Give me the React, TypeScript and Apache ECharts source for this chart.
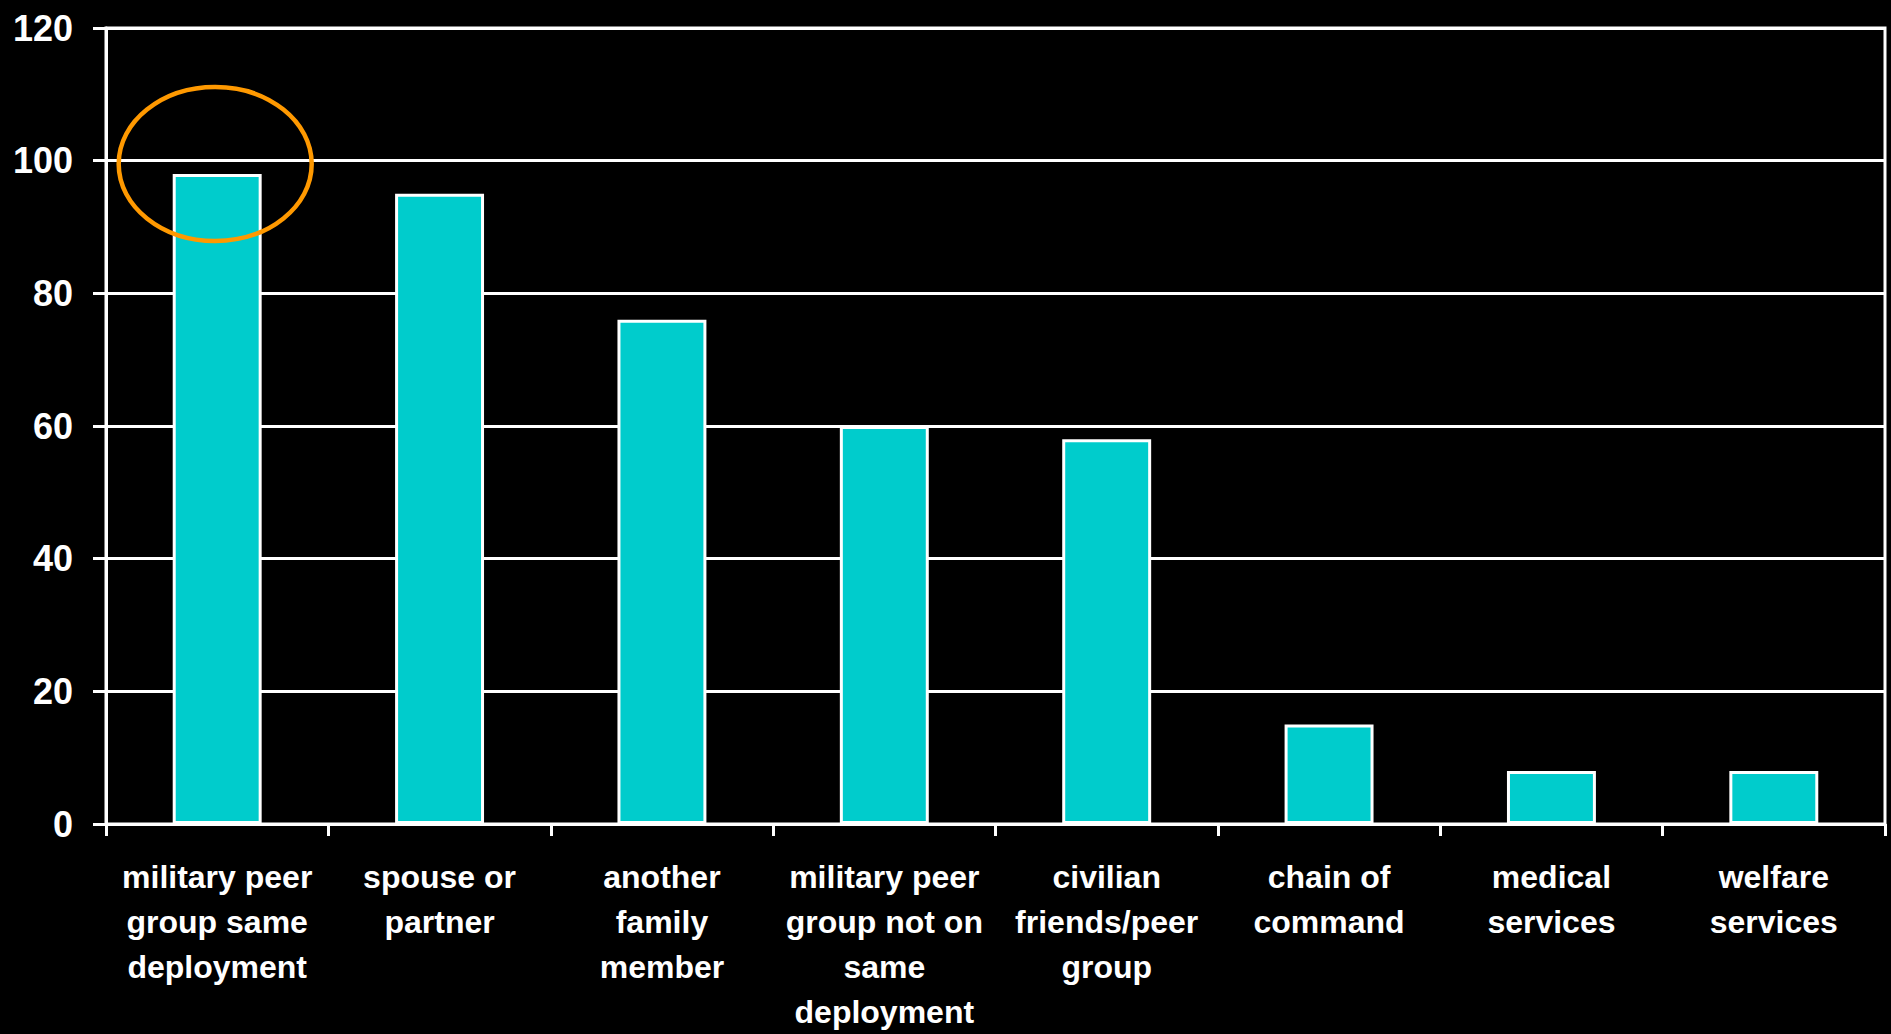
import React, { useEffect, useRef } from "react";
import * as echarts from "echarts";

const categories = [
  "military peer\ngroup same\ndeployment",
  "spouse or\npartner",
  "another\nfamily\nmember",
  "military peer\ngroup not on\nsame\ndeployment",
  "civilian\nfriends/peer\ngroup",
  "chain of\ncommand",
  "medical\nservices",
  "welfare\nservices",
];
const values = [98, 95, 76, 60, 58, 15, 8, 8];
const yTicks = { min: 0, max: 120, interval: 20 };
// highlight ellipse around the first bar: center (category index, value), radii (category fraction, value units)
const highlight = { index: 0, value: 99.5, rxCat: 0.434, ryVal: 11.6 };

const FONT = "'Liberation Sans', Arial, sans-serif";

export default function App() {
  const ref = useRef<HTMLDivElement>(null);
  useEffect(() => {
    document.body.style.margin = "0";
    document.body.style.background = "#000";
    const chart = echarts.init(ref.current!, undefined, { renderer: "svg" });
    chart.setOption({
      animation: false,
      backgroundColor: "#000000",
      grid: {
        left: 106,
        right: 6,
        top: 28,
        bottom: 209,
        show: true,
        borderColor: "#ffffff",
        borderWidth: 3,
        backgroundColor: "transparent",
      },
      xAxis: {
        type: "category",
        data: categories,
        boundaryGap: true,
        axisLine: { show: true, lineStyle: { color: "#ffffff", width: 3 } },
        axisTick: { show: true, length: 12, alignWithLabel: false, lineStyle: { color: "#ffffff", width: 3 } },
        axisLabel: {
          interval: 0,
          color: "#ffffff",
          fontFamily: FONT,
          fontWeight: "bold",
          fontSize: 32,
          lineHeight: 45,
          margin: 30,
          align: "center",
        },
        splitLine: { show: false },
      },
      yAxis: {
        type: "value",
        min: yTicks.min,
        max: yTicks.max,
        interval: yTicks.interval,
        axisLine: { show: true, lineStyle: { color: "#ffffff", width: 3 } },
        axisTick: { show: true, length: 13, lineStyle: { color: "#ffffff", width: 3 } },
        axisLabel: {
          color: "#ffffff",
          fontFamily: FONT,
          fontWeight: "bold",
          fontSize: 36,
          margin: 33,
        },
        splitLine: { show: true, lineStyle: { color: "#ffffff", width: 3 } },
      },
      series: [
        {
          type: "bar",
          data: values,
          barWidth: "40%",
          itemStyle: { color: "#00CCCC", borderColor: "#ffffff", borderWidth: 3 },
        },
      ],
    });
    const c = chart.convertToPixel({ xAxisIndex: 0, yAxisIndex: 0 }, [highlight.index, highlight.value]) as number[];
    const c2 = chart.convertToPixel({ xAxisIndex: 0, yAxisIndex: 0 }, [highlight.index + 1, highlight.value - highlight.ryVal]) as number[];
    const catW = c2[0] - c[0];
    chart.setOption({
      graphic: [
        {
          type: "ellipse",
          shape: { cx: c[0] - 2, cy: c[1], rx: catW * highlight.rxCat, ry: c2[1] - c[1] },
          style: { fill: "none", stroke: "#FF9900", lineWidth: 4.5 },
          z: 100,
        },
      ],
    });
    return () => chart.dispose();
  }, []);
  return <div ref={ref} style={{ width: 1891, height: 1034 }} />;
}
